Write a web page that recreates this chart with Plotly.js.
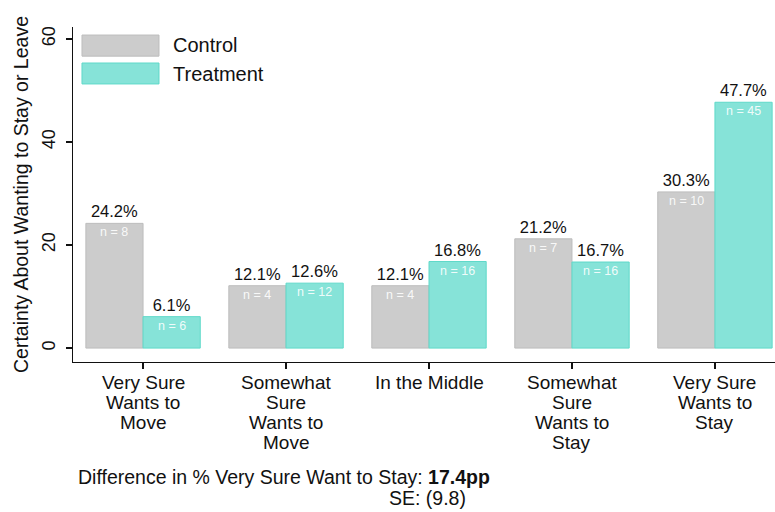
<!DOCTYPE html>
<html>
<head>
<meta charset="utf-8">
<script src="https://cdn.plot.ly/plotly-3.0.1.min.js"></script>
<style>html,body{margin:0;padding:0;background:#fff;}#chart{width:775px;height:512px;}</style>
</head>
<body>
<div id="chart"></div>
<script>
const categories = ["Very Sure<br>Wants to<br>Move", "Somewhat<br>Sure<br>Wants to<br>Move", "In the Middle", "Somewhat<br>Sure<br>Wants to<br>Stay", "Very Sure<br>Wants to<br>Stay"];
const controlPct = [24.2, 12.1, 12.1, 21.2, 30.3];
const treatmentPct = [6.1, 12.6, 16.8, 16.7, 47.7];
const controlN = [8, 4, 4, 7, 10];
const treatmentN = [6, 12, 16, 16, 45];
const yTicks = [0, 20, 40, 60];
const diffText = "Difference in % Very Sure Want to Stay: <b>17.4pp</b>";
const seText = "SE: (9.8)";

const FONT = "Liberation Sans, Arial, sans-serif";
const idx = categories.map((c, i) => i);

const traces = [
  {
    type: "bar", name: "Control", x: idx, y: controlPct,
    marker: {color: "#cccccc", line: {color: "#bdbdbd", width: 1}},
    text: controlPct.map(v => v.toFixed(1) + "%"),
    textposition: "outside", cliponaxis: false,
    textfont: {family: FONT, size: 16.5, color: "#111"}
  },
  {
    type: "bar", name: "Treatment", x: idx, y: treatmentPct,
    marker: {color: "#86e3d8", line: {color: "#5fd9c9", width: 1}},
    text: treatmentPct.map(v => v.toFixed(1) + "%"),
    textposition: "outside", cliponaxis: false,
    textfont: {family: FONT, size: 16.5, color: "#111"}
  }
];

const annotations = [];
const groupOffset = 0.2;
controlN.forEach((n, i) => annotations.push({
  x: i - groupOffset, y: controlPct[i], xref: "x", yref: "y", text: "n = " + n,
  showarrow: false, yanchor: "top", yshift: 0,
  font: {family: FONT, size: 12.5, color: "rgba(255,255,255,0.9)"}
}));
treatmentN.forEach((n, i) => annotations.push({
  x: i + groupOffset, y: treatmentPct[i], xref: "x", yref: "y", text: "n = " + n,
  showarrow: false, yanchor: "top", yshift: 0,
  font: {family: FONT, size: 12.5, color: "rgba(255,255,255,0.9)"}
}));
// category labels (tight line spacing), one annotation per line
categories.forEach((c, i) => {
  c.split("<br>").forEach((line, k) => annotations.push({
    x: i, y: 0, xref: "x", yref: "paper", text: line,
    showarrow: false, xanchor: "center", yanchor: "middle", yshift: -20 - 20 * k,
    font: {family: FONT, size: 19, color: "#111"}
  }));
});
// legend text
annotations.push({x: 0.1396, y: 0.945, xref: "paper", yref: "paper", text: "Control",
  showarrow: false, xanchor: "left", yanchor: "middle", font: {family: FONT, size: 20, color: "#111"}});
annotations.push({x: 0.1396, y: 0.860, xref: "paper", yref: "paper", text: "Treatment",
  showarrow: false, xanchor: "left", yanchor: "middle", font: {family: FONT, size: 20, color: "#111"}});
// footnotes
annotations.push({x: 0.004, y: -0.343, xref: "paper", yref: "paper", text: diffText,
  showarrow: false, xanchor: "left", yanchor: "middle", font: {family: FONT, size: 19.5, color: "#111"}});
annotations.push({x: 0.448, y: -0.405, xref: "paper", yref: "paper", text: seText,
  showarrow: false, xanchor: "left", yanchor: "middle", font: {family: FONT, size: 19.5, color: "#111"}});

const shapes = [
  {type: "rect", xref: "paper", yref: "paper", x0: 0.0128, x1: 0.1225, y0: 0.913, y1: 0.976,
   fillcolor: "#cccccc", line: {color: "#bdbdbd", width: 1}},
  {type: "rect", xref: "paper", yref: "paper", x0: 0.0128, x1: 0.1225, y0: 0.830, y1: 0.8925,
   fillcolor: "#86e3d8", line: {color: "#5fd9c9", width: 1}}
];

const layout = {
  width: 775, height: 512,
  margin: {l: 73, r: 0, t: 27, b: 150, pad: 0},
  paper_bgcolor: "#fff", plot_bgcolor: "#fff",
  showlegend: false,
  barmode: "group", bargap: 0.2, bargroupgap: 0,
  font: {family: FONT, color: "#111"},
  xaxis: {
    type: "linear", range: [-0.49, 4.42],
    tickmode: "array", tickvals: idx, ticktext: categories,
    showticklabels: false,
    showline: true, linecolor: "#111", linewidth: 1.3,
    ticks: "outside", ticklen: 6, tickcolor: "#111", tickwidth: 1.3,
    showgrid: false, zeroline: false, automargin: false
  },
  yaxis: {
    range: [-2.7, 62.3],
    tickmode: "array", tickvals: yTicks, ticktext: yTicks.map(String),
    tickangle: -90,
    showline: true, linecolor: "#111", linewidth: 1.3,
    ticks: "outside", ticklen: 6, tickcolor: "#111", tickwidth: 1.3,
    showgrid: false, zeroline: false,
    ticklabelstandoff: 4,
    tickfont: {family: FONT, size: 18, color: "#111"}, automargin: false,
    title: {text: "Certainty About Wanting to Stay or Leave", font: {family: FONT, size: 19.5, color: "#111"}, standoff: 4}
  },
  annotations: annotations,
  shapes: shapes
};

Plotly.newPlot("chart", traces, layout, {displayModeBar: false, staticPlot: true});
</script>
</body>
</html>
